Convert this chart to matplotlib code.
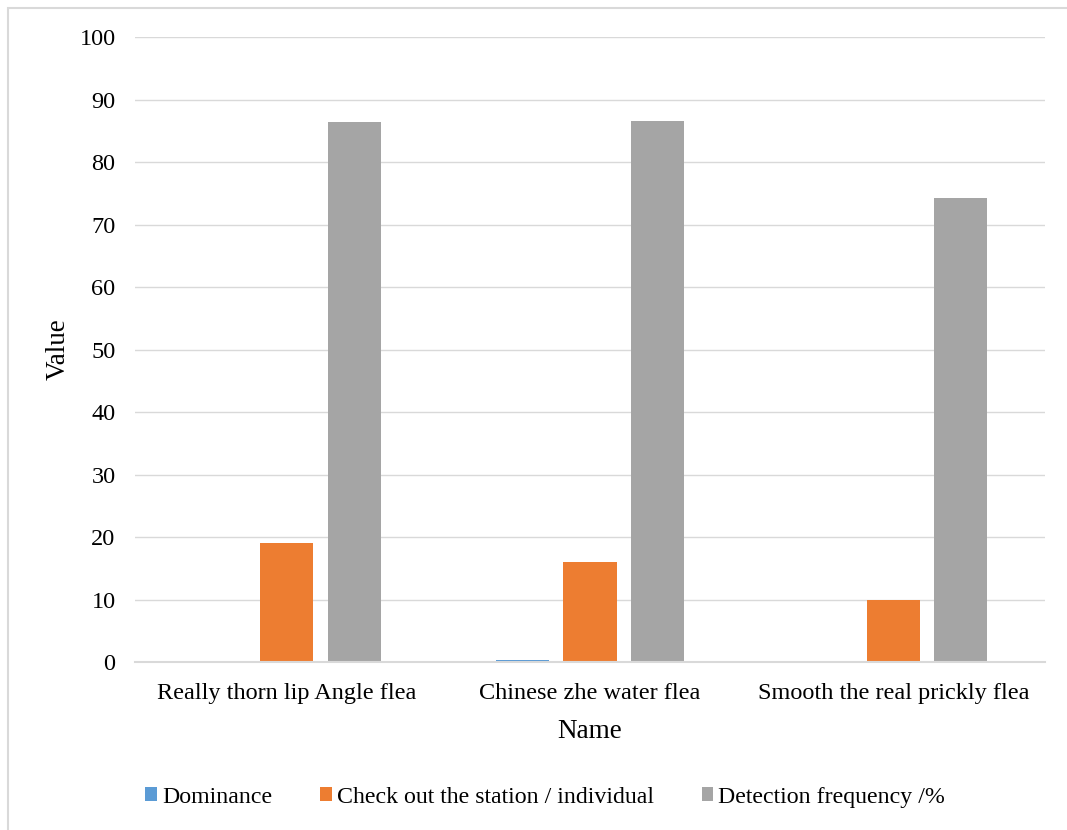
import numpy as np
import matplotlib.pyplot as plt
from matplotlib.patches import Rectangle

plt.rcParams['font.family'] = ['Liberation Serif', 'DejaVu Serif']

categories = ['Really thorn lip Angle flea', 'Chinese zhe water flea', 'Smooth the real prickly flea']
dominance = [0.0, 0.35, 0.0]
stations = [19, 16, 10]
frequency = [86.4, 86.5, 74.3]
series_names = ['Dominance', 'Check out the station / individual', 'Detection frequency /%']
colors = ['#5b9bd5', '#ed7d31', '#a5a5a5']

fig = plt.figure(figsize=(10.67, 8.3), dpi=100)
ax = fig.add_axes([135 / 1067, 1 - 662 / 830, 910 / 1067, 625 / 830])

x = np.arange(len(categories))
w = 0.175
step = 0.2225
for i, vals in enumerate([dominance, stations, frequency]):
    ax.bar(x + (i - 1) * step, vals, width=w, color=colors[i], label=series_names[i], zorder=3)

ax.set_xlim(-0.5, len(categories) - 0.5)
ax.set_ylim(0, 100)
ax.set_yticks(range(0, 101, 10))
ax.set_xticks(x)
ax.set_xticklabels(categories)
ax.tick_params(length=0, labelsize=17.5, colors='black')
ax.tick_params(axis='y', pad=14)
ax.tick_params(axis='x', pad=15)
ax.grid(axis='y', color='#d9d9d9', linewidth=1, zorder=0)
for s in ['top', 'right', 'left']:
    ax.spines[s].set_visible(False)
ax.spines['bottom'].set_color('#d9d9d9')
ax.spines['bottom'].set_linewidth(1.5)
ax.spines['bottom'].set_zorder(4)

ax.set_ylabel('Value', fontsize=19.5, labelpad=6)
ax.set_xlabel('Name', fontsize=19.5, labelpad=11)

fig.legend(loc='center', bbox_to_anchor=(0.511, 1 - 797 / 830), ncol=3, frameon=False,
           fontsize=17.2, handlelength=0.5, handleheight=0.5, handletextpad=0.2,
           columnspacing=2.0)

fig.patches.append(Rectangle((8 / 1067, -0.05), 1.1, 1 - 8 / 830 + 0.05, transform=fig.transFigure,
                             fill=False, edgecolor='#d9d9d9', linewidth=1.5))

fig.savefig('out.png', dpi=100)
